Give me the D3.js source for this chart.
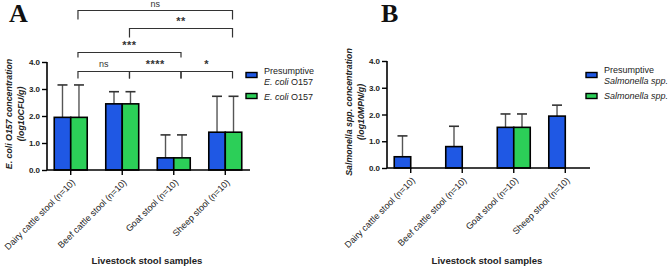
<!DOCTYPE html>
<html><head><meta charset="utf-8">
<script src="https://cdn.jsdelivr.net/npm/d3@7"></script>
<style>
html,body{margin:0;padding:0;background:#fff;}
svg{display:block;font-family:Arial,"Liberation Sans",sans-serif;}
</style></head>
<body>
<svg id="chart" width="672" height="268"></svg>
<script>
// ---------- data ----------
const categories = ["Dairy cattle stool (n=10)", "Beef cattle stool (n=10)", "Goat stool (n=10)", "Sheep stool (n=10)"];
const yTicks = [0, 1, 2, 3, 4];
const yTickLabels = ["0.0", "1.0", "2.0", "3.0", "4.0"];

// Panel A: E. coli O157 (log10 CFU/g)
const ecoliPresumptive = [1.95, 2.45, 0.45, 1.40];
const ecoliPresumptiveSD = [1.20, 0.45, 0.85, 1.33];
const ecoliConfirmed = [1.95, 2.45, 0.45, 1.40];
const ecoliConfirmedSD = [1.20, 0.45, 0.85, 1.33];

// Panel B: Salmonella spp. (log10 MPN/g)
const salmPresumptive = [0.42, 0.80, 1.52, 1.94];
const salmPresumptiveSD = [0.78, 0.76, 0.50, 0.41];
const salmConfirmed = [0, 0, 1.52, 0];
const salmConfirmedSD = [0, 0, 0.50, 0];

// significance comparisons (category indices, label, bracket height in data units)
const sigFrom = [0, 1, 2, 0, 1, 0];
const sigTo = [1, 2, 3, 2, 3, 3];
const sigLabels = ["ns", "****", "*", "***", "**", "ns"];
const sigHeights = [3.67, 3.67, 3.67, 4.37, 5.26, 5.93];

const seriesKeys = ["presumptive", "confirmed"];
const colors = {presumptive: "#1f58e4", confirmed: "#2ccf58"};

const svg = d3.select("#chart");

function drawPanel(opt) {
  const g = svg.append("g").attr("transform", `translate(${opt.ox},0)`);
  const axisX = 47, axisRight = 250;
  const y = d3.scaleLinear().domain([0, 4]).range([opt.yBottom, opt.yTop]);
  const x0 = d3.scaleBand().domain(categories).range([46, 250]).paddingInner(0.36).paddingOuter(0.16);
  const x1 = d3.scaleBand().domain(seriesKeys).range([0, x0.bandwidth()]);

  const rows = categories.map((c, i) => ({
    cat: c,
    vals: [
      {key: "presumptive", v: opt.pres[i], sd: opt.presSD[i]},
      {key: "confirmed", v: opt.conf[i], sd: opt.confSD[i]}
    ]
  }));

  // error bars (drawn first, behind bars)
  const eg = g.append("g");
  rows.forEach(r => r.vals.forEach(d => {
    if (d.v <= 0) return;
    const cx = x0(r.cat) + x1(d.key) + x1.bandwidth() / 2;
    eg.append("line").attr("x1", cx).attr("x2", cx)
      .attr("y1", y(d.v)).attr("y2", y(d.v + d.sd))
      .attr("stroke", "#555").attr("stroke-width", 1.4);
    eg.append("line").attr("x1", cx - 5).attr("x2", cx + 5)
      .attr("y1", y(d.v + d.sd)).attr("y2", y(d.v + d.sd))
      .attr("stroke", "#333").attr("stroke-width", 1.6);
  }));

  // bars
  const bg = g.append("g");
  rows.forEach(r => r.vals.forEach(d => {
    if (d.v <= 0) return;
    bg.append("rect")
      .attr("x", x0(r.cat) + x1(d.key))
      .attr("y", y(d.v))
      .attr("width", x1.bandwidth())
      .attr("height", y(0) - y(d.v))
      .attr("fill", colors[d.key])
      .attr("stroke", "#000").attr("stroke-width", 1.6);
  }));

  // y axis
  const ya = g.append("g").attr("transform", `translate(${axisX},0)`)
    .call(d3.axisLeft(y).tickValues(yTicks).tickFormat((d, i) => yTickLabels[i]).tickSize(5).tickPadding(2));
  ya.select(".domain").attr("stroke", "#000").attr("stroke-width", 1.6).attr("d", `M-0,${opt.yTop}V${opt.yBottom}`);
  ya.selectAll(".tick line").attr("stroke", "#000").attr("stroke-width", 1.4);
  ya.selectAll(".tick text").attr("font-size", 8).attr("font-weight", "bold").attr("fill", "#222")
    .attr("font-family", "Arial,'Liberation Sans',sans-serif");

  // x axis
  const xa = g.append("g").attr("transform", `translate(0,${opt.yBottom})`)
    .call(d3.axisBottom(x0).tickSize(5).tickSizeOuter(0));
  xa.select(".domain").attr("stroke", "#000").attr("stroke-width", 1.6).attr("d", `M${axisX},0H${axisRight}`);
  xa.selectAll(".tick line").attr("stroke", "#000").attr("stroke-width", 1.4);
  xa.selectAll(".tick text")
    .attr("font-size", 9).attr("fill", "#222")
    .attr("font-family", "Arial,'Liberation Sans',sans-serif")
    .attr("text-anchor", "end")
    .attr("dy", null).attr("y", 0)
    .attr("transform", "translate(5,13) rotate(-45)");

  // x title
  g.append("text").attr("x", 147).attr("y", 264).attr("text-anchor", "middle")
    .attr("font-size", 9.6).attr("font-weight", "bold").attr("fill", "#222")
    .text("Livestock stool samples");

  // y title
  const yt = g.append("text").attr("transform", `translate(${opt.ytX},${opt.ytY}) rotate(-90)`)
    .attr("text-anchor", "middle").attr("font-size", 8.8).attr("font-weight", "bold")
    .attr("font-style", "italic").attr("fill", "#222");
  yt.append("tspan").attr("x", 0).attr("dy", 0).text(opt.yTitle1);
  yt.append("tspan").attr("x", 0).attr("dy", 11.5).text(opt.yTitle2);

  // panel letter
  g.append("text").attr("x", opt.letterX).attr("y", 22).attr("font-size", 26)
    .attr("font-weight", "bold").attr("font-family", "'Liberation Serif','DejaVu Serif',serif")
    .attr("fill", "#111").text(opt.letter);

  // legend
  const lg = g.append("g").attr("transform", "translate(246,0)");
  const legendY = [75, 96];
  seriesKeys.forEach((k, i) => {
    lg.append("rect").attr("x", 0).attr("y", legendY[i] - 2.5).attr("width", 11).attr("height", 5)
      .attr("fill", colors[k]).attr("stroke", "#000").attr("stroke-width", 1.4);
  });
  opt.legend(lg);

  // significance brackets
  if (opt.sig) {
    const sg = g.append("g");
    const gx = i => x0(categories[i]) + x1("confirmed") + x1.bandwidth() / 2 - 1;
    const drops = [7, 7, 7, 5, 9, 9];
    sigFrom.forEach((f, i) => {
      const yy = Math.round(y(sigHeights[i])) + 0.5;
      const xa_ = gx(f), xb = gx(sigTo[i]);
      sg.append("path")
        .attr("d", `M${xa_},${yy + drops[i]}V${yy}H${xb}V${yy + drops[i]}`)
        .attr("fill", "none").attr("stroke", "#333").attr("stroke-width", 1.2);
      const isNs = sigLabels[i] === "ns";
      sg.append("text").attr("x", (xa_ + xb) / 2).attr("y", isNs ? Math.max(yy - 5, 7) : yy - 3.5)
        .attr("text-anchor", "middle")
        .attr("font-size", isNs ? 9 : 11).attr("font-weight", isNs ? "normal" : "bold")
        .attr("fill", "#333").attr("letter-spacing", isNs ? 0 : 0.5)
        .text(sigLabels[i]);
    });
  }
}

drawPanel({
  ox: 0, yTop: 62, yBottom: 170,
  pres: ecoliPresumptive, presSD: ecoliPresumptiveSD,
  conf: ecoliConfirmed, confSD: ecoliConfirmedSD,
  yTitle1: "E. coli O157 concentration", yTitle2: "(log10CFU/g)",
  ytX: 12, ytY: 114, letter: "A", letterX: 9, sig: true,
  legend: lg => {
    const t1 = lg.append("text").attr("x", 18).attr("y", 74).attr("font-size", 9).attr("fill", "#222");
    t1.append("tspan").text("Presumptive");
    const t2 = lg.append("text").attr("x", 18).attr("y", 84.5).attr("font-size", 9).attr("fill", "#222");
    t2.append("tspan").attr("font-style", "italic").text("E. coli");
    t2.append("tspan").text(" O157");
    const t3 = lg.append("text").attr("x", 18).attr("y", 99.5).attr("font-size", 9).attr("fill", "#222");
    t3.append("tspan").attr("font-style", "italic").text("E. coli");
    t3.append("tspan").text(" O157");
  }
});

drawPanel({
  ox: 340, yTop: 61, yBottom: 168,
  pres: salmPresumptive, presSD: salmPresumptiveSD,
  conf: salmConfirmed, confSD: salmConfirmedSD,
  yTitle1: "Salmonella spp. concentration", yTitle2: "(log10MPN/g)",
  ytX: 12, ytY: 112, letter: "B", letterX: 41, sig: false,
  legend: lg => {
    lg.append("text").attr("x", 18).attr("y", 73).attr("font-size", 9).attr("fill", "#222").text("Presumptive");
    lg.append("text").attr("x", 18).attr("y", 83.5).attr("font-size", 9).attr("font-style", "italic").attr("fill", "#222").text("Salmonella spp.");
    lg.append("text").attr("x", 18).attr("y", 99).attr("font-size", 9).attr("font-style", "italic").attr("fill", "#222").text("Salmonella spp.");
  }
});
</script>
</body></html>
